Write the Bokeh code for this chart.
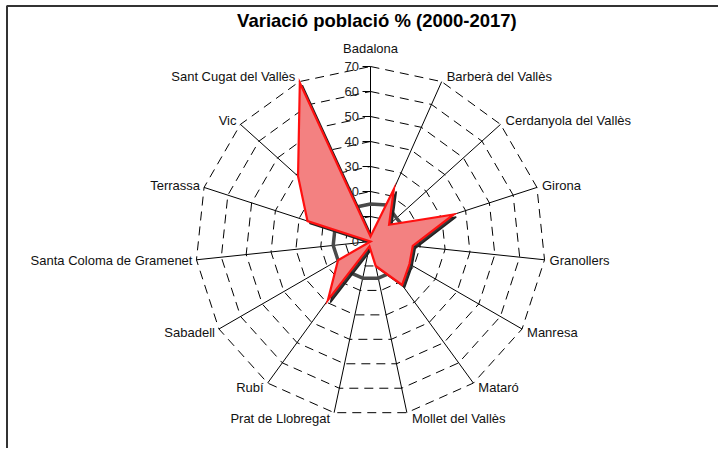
import numpy as np
from bokeh.plotting import figure
from bokeh.models import Range1d
from bokeh.embed import file_html
from bokeh.resources import INLINE
from bokeh.core.properties import value

# ---------------- data ----------------
categories = ["Badalona", "Barberà del Vallès", "Cerdanyola del Vallès", "Girona",
              "Granollers", "Manresa", "Mataró", "Mollet del Vallès",
              "Prat de Llobregat", "Rubí", "Sabadell", "Santa Coloma de Gramenet",
              "Terrassa", "Vic", "Sant Cugat del Vallès"]
variacio = [2, 23, 10, 35, 17, 18, 21.5, 10, 2, 29, 15, 0, 26.5, 39, 69.5]
referencia = [15, 16, 14, 15, 15, 15, 15, 15, 15, 15, 15, 15, 15, 15, 15]
tick_values = [0, 10, 20, 30, 40, 50, 60, 70]
tick_labels = ["0", "10", "20", "30", "40", "50", "60", "70"]
title_text = "Variació població %  (2000-2017)"

# ---------------- geometry ----------------
PX = 2.5          # pixels per unit
W, H = 718, 448
cx_px, cy_px = 370, 241   # centre within the figure (pixels)
RMAX = tick_values[-1]
FONT = value("Liberation Sans")

n = len(categories)
ang = np.deg2rad(np.arange(n) * 360.0 / n)
s, c = np.sin(ang), np.cos(ang)

def polar(vals):
    v = np.asarray(vals, dtype=float)
    return list(v * s), list(v * c)

def closed(xs, ys):
    return xs + [xs[0]], ys + [ys[0]]

x0 = -cx_px / PX
x1 = (W - cx_px) / PX
y1 = cy_px / PX
y0 = -(H - cy_px) / PX

p = figure(width=W, height=H, x_range=Range1d(x0, x1), y_range=Range1d(y0, y1),
           output_backend="svg", toolbar_location=None, min_border=0,
           background_fill_color="white", border_fill_color="white",
           outline_line_color=None)
p.xaxis.visible = False
p.yaxis.visible = False
p.grid.visible = False

# chart-area border (top and left edges visible)
bx = x0 + 6.5 / PX
by = y1 - 5.5 / PX
p.line([bx, bx, x1], [y0, by, by], line_color="#333333", line_width=2)

# rings
ring_xs, ring_ys = [], []
for lv in tick_values[1:]:
    rx, ry = closed(*polar([lv] * n))
    ring_xs.append(rx)
    ring_ys.append(ry)
p.multi_line(ring_xs, ring_ys, line_color="black", line_width=1, line_dash="9 6")

# spokes
sx, sy = polar([RMAX] * n)
p.multi_line([[0, a] for a in sx], [[0, b] for b in sy], line_color="black", line_width=1)

# ticks on Badalona axis
tick_len = 3.2
p.multi_line([[-tick_len, 0] for _ in tick_values], [[t, t] for t in tick_values],
             line_color="black", line_width=1)
p.text(x=[-4.6] * len(tick_values), y=tick_values, text=tick_labels,
       text_font=FONT, text_font_size="13px", text_color="#222222",
       text_align="right", text_baseline="middle")

# grey series
gx, gy = closed(*polar(referencia))
p.line(gx, gy, line_color="#4a4a4a", line_width=3.5)

# red series with shadow
rx, ry = polar(variacio)
p.patch([a + 1.0 for a in rx], [b - 1.0 for b in ry], fill_color="#222222",
        fill_alpha=0.9, line_color="#222222", line_width=1.5)
p.patch(rx, ry, fill_color="#F38181", line_color="#FF1010", line_width=2.2,
        line_join="miter")

# category labels
lab = {"left": ([], [], []), "right": ([], [], []), "center": ([], [], [])}
for i, name in enumerate(categories):
    ex, ey = RMAX * s[i], RMAX * c[i]
    if abs(s[i]) < 0.1:
        key = "center"
        lx, ly = ex, ey + 18 / PX
    elif s[i] > 0:
        key = "left"
        lx, ly = ex + 5 / PX, ey + 6 * c[i] / PX
    else:
        key = "right"
        lx, ly = ex - 4 / PX, ey + 6 * c[i] / PX
    lab[key][0].append(lx)
    lab[key][1].append(ly)
    lab[key][2].append(name)
for key, (lx, ly, tx) in lab.items():
    if tx:
        p.text(x=lx, y=ly, text=tx, text_font=FONT, text_font_size="13px",
               text_color="#111111", text_align=key, text_baseline="middle")

# title
p.text(x=[(379 - cx_px) / PX], y=[(cy_px - 20) / PX], text=[title_text],
       text_font=FONT, text_font_size="18.5px", text_font_style="bold",
       text_color="black", text_align="center", text_baseline="middle")

open("out.html", "w").write(file_html(p, INLINE))
